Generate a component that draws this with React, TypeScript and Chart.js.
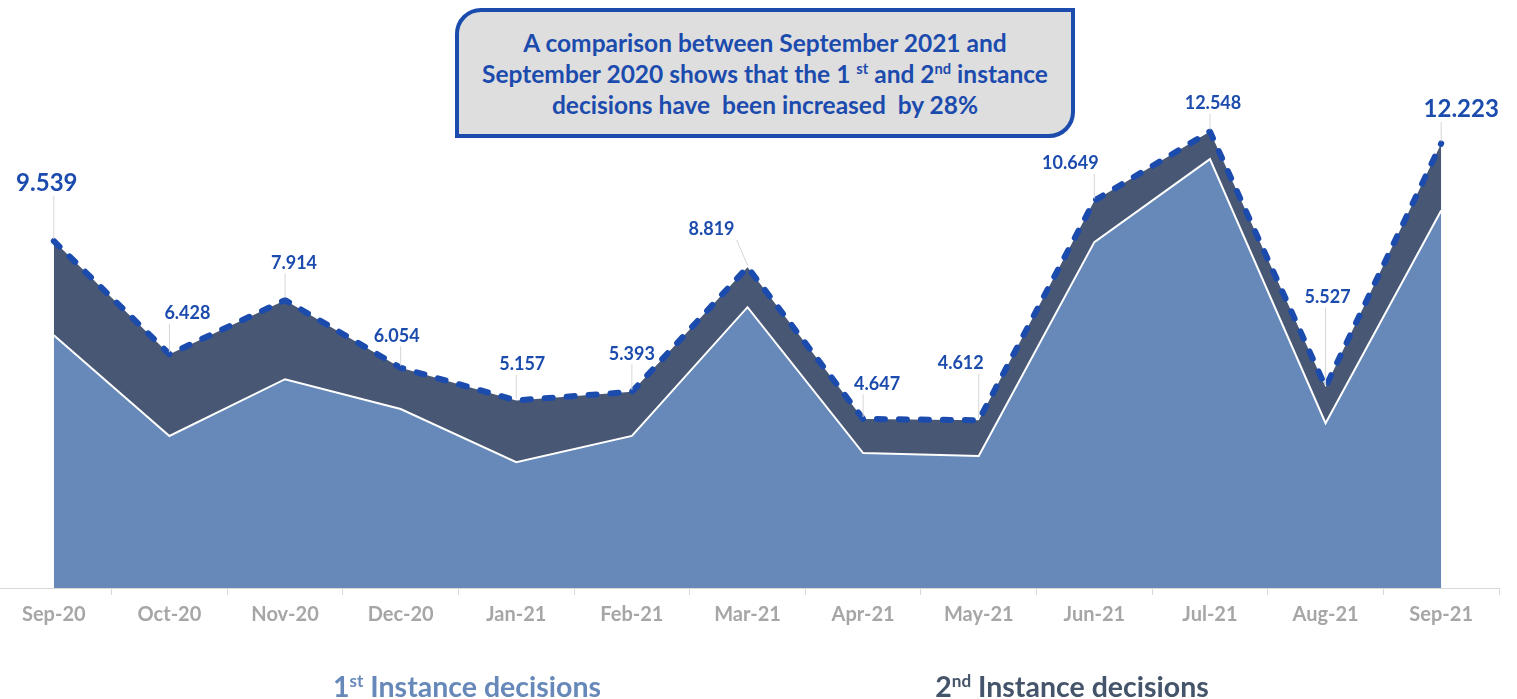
import React, { useEffect, useRef } from "react";
import { Chart, registerables } from "chart.js";

Chart.register(...registerables);

const categories = ["Sep-20", "Oct-20", "Nov-20", "Dec-20", "Jan-21", "Feb-21", "Mar-21", "Apr-21", "May-21", "Jun-21", "Jul-21", "Aug-21", "Sep-21"];
const firstInstance = [6950, 4180, 5740, 4920, 3460, 4180, 7720, 3710, 3630, 9510, 11790, 4530, 10380];
const secondInstance = [2589, 2248, 2174, 1134, 1697, 1213, 1099, 937, 982, 1139, 758, 997, 1843];
const yMax = 16000;

// label placement (offset of label centre from the point) and size
const labelOffsets: [number, number][] = [
  [-7, -58], [18, -41], [9, -37], [-4, -32], [6, -36], [0, -38], [-36, -38],
  [14, -35], [-18, -57], [-24, -37], [3, -28], [2, -90], [20, -34],
];
const labelSizes = [24, 18, 18, 18, 18, 18, 18, 18, 18, 18, 18, 18, 24];

const FONT = "Lato";
const BLUE = "#1C4BAE";
const LIGHT = "#6689B9";
const DARK = "#485774";

function fmt(n: number): string {
  const s = String(Math.round(n));
  return s.length > 3 ? s.slice(0, -3) + "." + s.slice(-3) : s;
}

const labelPlugin = {
  id: "totalLabels",
  afterDatasetsDraw(chart: any) {
    const ctx = chart.ctx;
    const meta = chart.getDatasetMeta(1);
    ctx.save();
    meta.data.forEach((pt: any, i: number) => {
      const text = fmt(firstInstance[i] + secondInstance[i]);
      const [dx, dy] = labelOffsets[i];
      const size = labelSizes[i];
      const lx = pt.x + dx;
      const ly = pt.y + dy;
      ctx.font = `bold ${size}px ${FONT}`;
      const w = ctx.measureText(text).width;
      const h = size * 0.72;
      const rx0 = lx - w / 2 - 2, rx1 = lx + w / 2 + 2;
      const ry0 = ly - h / 2 - 2, ry1 = ly + h / 2 + 4;
      const cx = Math.min(Math.max(pt.x, rx0), rx1);
      const cy = Math.min(Math.max(pt.y, ry0), ry1);
      if (Math.hypot(cx - pt.x, cy - pt.y) > 6) {
        ctx.strokeStyle = "#D6D6D6";
        ctx.lineWidth = 1;
        ctx.beginPath();
        ctx.moveTo(cx, cy);
        ctx.lineTo(pt.x, pt.y - 2);
        ctx.stroke();
      }
      ctx.fillStyle = BLUE;
      ctx.textAlign = "center";
      ctx.textBaseline = "middle";
      ctx.fillText(text, lx, ly);
    });
    ctx.restore();
  },
};

export default function App() {
  const canvasRef = useRef<HTMLCanvasElement | null>(null);

  useEffect(() => {
    if (!canvasRef.current) return;
    const chart = new Chart(canvasRef.current, {
      type: "line",
      data: {
        labels: categories,
        datasets: [
          {
            label: "1st Instance decisions",
            data: firstInstance,
            fill: "origin",
            backgroundColor: LIGHT,
            borderColor: "#FFFFFF",
            borderWidth: 2,
            pointRadius: 0,
            tension: 0,
          },
          {
            label: "2nd Instance decisions",
            data: secondInstance,
            fill: "-1",
            backgroundColor: DARK,
            borderColor: BLUE,
            borderWidth: 6,
            borderDash: [8, 14],
            borderCapStyle: "round",
            borderJoinStyle: "round",
            pointRadius: 0,
            tension: 0,
          },
        ],
      },
      options: {
        responsive: false,
        animation: false,
        layout: { padding: { top: 6, right: 18, left: 0, bottom: 0 } },
        plugins: { legend: { display: false }, tooltip: { enabled: false } },
        scales: {
          x: {
            type: "category",
            offset: true,
            grid: { offset: true, drawOnChartArea: false, drawTicks: true, tickLength: 7, color: "#D9D9D9" },
            border: { display: true, color: "#D9D9D9", width: 1 },
            ticks: { color: "#A6A6A6", font: { family: FONT, size: 20, weight: "bold" }, padding: 8, maxRotation: 0, autoSkip: false },
            afterFit: (scale: any) => { scale.height = 111; },
          },
          y: { stacked: true, min: 0, max: yMax, display: false },
        },
      },
      plugins: [labelPlugin],
    } as any);
    return () => chart.destroy();
  }, []);

  const boxText: React.CSSProperties = {
    position: "fixed",
    left: 455,
    top: 8,
    width: 620,
    height: 130,
    boxSizing: "border-box",
    border: `4px solid ${BLUE}`,
    borderRadius: "26px 0 26px 0",
    background: "#DEDEDE",
    display: "flex",
    alignItems: "center",
    justifyContent: "center",
    textAlign: "center",
    color: BLUE,
    fontFamily: FONT,
    fontWeight: 700,
    fontSize: 24.5,
    lineHeight: "31px",
    whiteSpace: "nowrap",
  };
  const sup: React.CSSProperties = { fontSize: "0.6em", verticalAlign: "0.6em", lineHeight: 0 };
  const legendBase: React.CSSProperties = {
    position: "fixed",
    top: 670,
    width: 400,
    textAlign: "center",
    fontFamily: FONT,
    fontWeight: 700,
    fontSize: 28.5,
    lineHeight: "32px",
    whiteSpace: "nowrap",
  };

  return (
    <div>
      <canvas
        ref={canvasRef}
        width={1521}
        height={699}
        style={{ position: "fixed", left: -4, top: 0, width: 1521, height: 699 }}
      />
      <div style={boxText}>
        <div>
          A comparison between September 2021 and<br />
          September 2020 shows that the 1 <sup style={sup}>st</sup> and 2<sup style={sup}>nd</sup> instance<br />
          decisions have&nbsp; been increased&nbsp; by 28%
        </div>
      </div>
      <div style={{ ...legendBase, left: 267, color: LIGHT }}>
        1<sup style={sup}>st</sup> Instance decisions
      </div>
      <div style={{ ...legendBase, left: 872, color: "#44546A" }}>
        2<sup style={sup}>nd</sup> Instance decisions
      </div>
    </div>
  );
}
